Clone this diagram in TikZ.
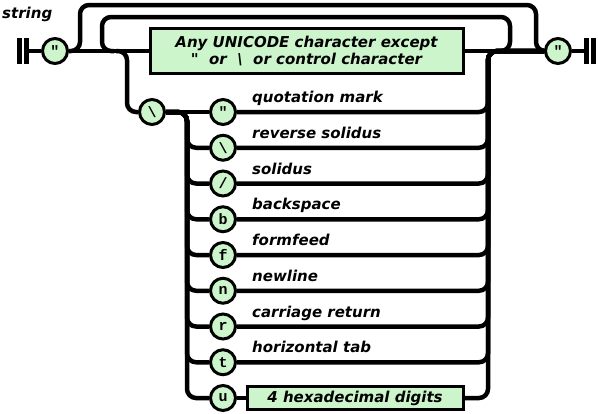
\documentclass[tikz,border=0pt]{standalone}
\usepackage{fontspec}
\setmainfont{DejaVu Sans}
\newfontfamily\railfont{DejaVu Sans Bold Oblique}
\newfontfamily\termfont{Liberation Mono}
\usetikzlibrary{positioning}
\definecolor{railgreen}{RGB}{204,245,204}
\tikzstyle{term} = [circle,draw,fill=railgreen,line width=3pt,minimum size=25pt,inner sep=0pt,font=\termfont\bfseries\fontsize{15}{15}\selectfont]

\begin{document}
\begin{tikzpicture}
		[
		x=1pt,y=-1pt,
		node distance=35.75pt,
		rail/.style={line width=4.5pt,rounded corners=9pt},
		bar/.style={line width=5pt},
		block/.style={
		draw,
		rectangle,
		fill=railgreen,
		line width=3pt,
		inner sep=0pt,
		font=\railfont\fontsize{15}{17}\selectfont},
		lbl/.style={anchor=base west,inner sep=0pt,font=\railfont\fontsize{15}{17}\selectfont}
		]
		\useasboundingbox (0,0) rectangle (598,413);
		\node[anchor=west,inner sep=0pt,font=\railfont\fontsize{15}{15}\selectfont](title) at (2,14) {string};
		% start and end of the rail
		\coordinate (start) at (26,51);
		\coordinate (stop) at (586,51);
		\node[term](q_open) at (55,51) {"};
		\node[block,minimum width=313pt,minimum height=45pt,align=center](chars) at (306.5,51) {Any UNICODE character except\\"\ \ or\ \ \textbackslash\ \ or control character};
		\node[term](q_close) at (558,51) {"};
		% escapes
		\node[term](esc) at (152,112) {\textbackslash};
		\node[term](e_quote) at (223,112) {"};
		\node[term,below of=e_quote](e_rsol) {\textbackslash};
		\node[term,below of=e_rsol](e_sol) {/};
		\node[term,below of=e_sol](e_bs) {b};
		\node[term,below of=e_bs](e_ff) {f};
		\node[term,below of=e_ff](e_nl) {n};
		\node[term,below of=e_nl](e_cr) {r};
		\node[term,below of=e_cr](e_tab) {t};
		\node[term,below of=e_tab](e_hex) {u};
		\node[block,minimum width=216pt,minimum height=23pt](hex) at (355,398) {4 hexadecimal digits};
		\node[lbl](l_quote) at ([shift={(29pt,9.5pt)}]e_quote.center) {quotation mark};
		\node[lbl](l_rsol) at ([shift={(29pt,9.5pt)}]e_rsol.center) {reverse solidus};
		\node[lbl](l_sol) at ([shift={(29pt,9.5pt)}]e_sol.center) {solidus};
		\node[lbl](l_bs) at ([shift={(29pt,9.5pt)}]e_bs.center) {backspace};
		\node[lbl](l_ff) at ([shift={(29pt,9.5pt)}]e_ff.center) {formfeed};
		\node[lbl](l_nl) at ([shift={(29pt,9.5pt)}]e_nl.center) {newline};
		\node[lbl](l_cr) at ([shift={(29pt,9.5pt)}]e_cr.center) {carriage return};
		\node[lbl](l_tab) at ([shift={(29pt,9.5pt)}]e_tab.center) {horizontal tab};
		% corners of the rails
		\coordinate (bypass_l) at (80,5);
		\coordinate (bypass_r) at (536,51);
		\coordinate (loop_in) at (114,51);
		\coordinate (loop_l) at (102,17);
		\coordinate (loop_r) at (510,51);
		\coordinate (loop_out) at (498,51);
		\coordinate (esc_in) at (116,51);
		\coordinate (esc_v) at (127,112);
		\coordinate (fan_l) at (187,112);
		\coordinate (fan_r) at (488,51);
		\draw[bar] ([yshift=13pt]start) -- ([yshift=-13pt]start);
		\draw[bar] ([xshift=-7pt,yshift=13pt]start) -- ([xshift=-7pt,yshift=-13pt]start);
		\draw[bar] ([yshift=13pt]stop) -- ([yshift=-13pt]stop);
		\draw[bar] ([xshift=7pt,yshift=13pt]stop) -- ([xshift=7pt,yshift=-13pt]stop);
		\draw[rail] (start) -- (q_open);
		\draw[rail] (q_open) -- (chars);
		\draw[rail] (chars) -- (q_close);
		\draw[rail] (q_close) -- (stop);
		\draw[rail] (q_open.east) -| (bypass_l) -| (bypass_r) -- (q_close.west);
		\draw[rail] (loop_in) -| (loop_l) -| (loop_r) -- (loop_out);
		\draw[rail] (esc_in) -| (esc_v) -- (esc.west);
		\draw[rail] (esc) -- (e_quote);
		\draw[rail] (esc.east) -| (fan_l |- e_rsol) -- (e_rsol.west);
		\draw[rail] (esc.east) -| (fan_l |- e_sol) -- (e_sol.west);
		\draw[rail] (esc.east) -| (fan_l |- e_bs) -- (e_bs.west);
		\draw[rail] (esc.east) -| (fan_l |- e_ff) -- (e_ff.west);
		\draw[rail] (esc.east) -| (fan_l |- e_nl) -- (e_nl.west);
		\draw[rail] (esc.east) -| (fan_l |- e_cr) -- (e_cr.west);
		\draw[rail] (esc.east) -| (fan_l |- e_tab) -- (e_tab.west);
		\draw[rail] (esc.east) -| (fan_l |- e_hex) -- (e_hex.west);
		\draw[rail] (e_hex) -- (hex);
		\draw[rail] (e_quote.east) -| (fan_r) -- (q_close.west);
		\draw[rail] (e_rsol.east) -| (fan_r) -- (q_close.west);
		\draw[rail] (e_sol.east) -| (fan_r) -- (q_close.west);
		\draw[rail] (e_bs.east) -| (fan_r) -- (q_close.west);
		\draw[rail] (e_ff.east) -| (fan_r) -- (q_close.west);
		\draw[rail] (e_nl.east) -| (fan_r) -- (q_close.west);
		\draw[rail] (e_cr.east) -| (fan_r) -- (q_close.west);
		\draw[rail] (e_tab.east) -| (fan_r) -- (q_close.west);
		\draw[rail] (hex.east) -| (fan_r) -- (q_close.west);
		\end{tikzpicture}
\end{document}
